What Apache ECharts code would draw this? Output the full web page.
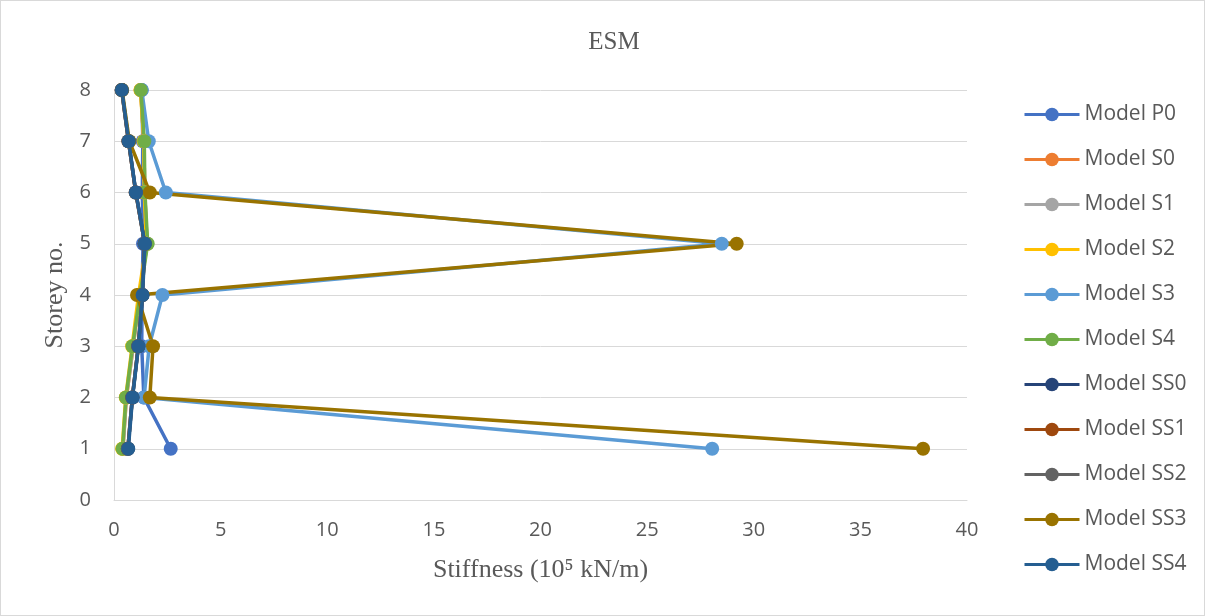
<!DOCTYPE html>
<html>
<head>
<meta charset="utf-8">
<script src="https://cdn.jsdelivr.net/npm/echarts@6/dist/echarts.min.js"></script>
<style>
  html, body { margin: 0; padding: 0; background: #fff; }
  #chart { width: 1205px; height: 616px; box-sizing: border-box; border: 1px solid #d9d9d9; }
</style>
</head>
<body>
<div id="chart"></div>
<script>
// Storey numbers (y) and stiffness per storey (x, in 10^5 kN/m), storeys 1..8
const storeys = [1, 2, 3, 4, 5, 6, 7, 8];
const xTicks = [0, 5, 10, 15, 20, 25, 30, 35, 40];
const yTicks = [0, 1, 2, 3, 4, 5, 6, 7, 8];

const modelP0  = [2.66, 1.40, 1.30, 1.32, 1.36, 1.33, 1.35, 1.30];
const modelS0  = [0.42, 0.58, 0.90, 1.20, 1.55, 1.44, 1.40, 1.25];
const modelS1  = [0.42, 0.58, 0.90, 1.20, 1.55, 1.44, 1.40, 1.25];
const modelS2  = [0.38, 0.55, 0.85, 1.15, 1.52, 1.42, 1.40, 1.24];
const modelS3  = [28.05, 1.41, 1.65, 2.27, 28.5, 2.43, 1.63, 1.30];
const modelS4  = [0.40, 0.56, 0.87, 1.22, 1.58, 1.45, 1.42, 1.26];
const modelSS0 = [0.65, 0.86, 1.14, 1.33, 1.44, 1.02, 0.68, 0.36];
const modelSS1 = [0.65, 0.86, 1.14, 1.33, 1.44, 1.02, 0.68, 0.36];
const modelSS2 = [0.65, 0.86, 1.14, 1.33, 1.44, 1.02, 0.68, 0.36];
const modelSS3 = [37.94, 1.68, 1.83, 1.08, 29.2, 1.68, 0.72, 0.38];
const modelSS4 = [0.67, 0.87, 1.15, 1.34, 1.45, 1.03, 0.69, 0.37];

const seriesDefs = [
  ['Model P0',  modelP0,  '#4472C4'],
  ['Model S0',  modelS0,  '#ED7D31'],
  ['Model S1',  modelS1,  '#A5A5A5'],
  ['Model S2',  modelS2,  '#FFC000'],
  ['Model S3',  modelS3,  '#5B9BD5'],
  ['Model S4',  modelS4,  '#70AD47'],
  ['Model SS0', modelSS0, '#264478'],
  ['Model SS1', modelSS1, '#9E480E'],
  ['Model SS2', modelSS2, '#636363'],
  ['Model SS3', modelSS3, '#997300'],
  ['Model SS4', modelSS4, '#255E91']
];

const chart = echarts.init(document.getElementById('chart'), null, { renderer: 'canvas' });

const series = seriesDefs.map(([name, vals, color]) => ({
  name: name,
  type: 'line',
  data: vals.map((v, i) => [v, storeys[i]]),
  symbol: 'circle',
  symbolSize: 14,
  showSymbol: true,
  lineStyle: { width: 3.5, color: color },
  itemStyle: { color: color },
  emphasis: { disabled: true },
  animation: false
}));

chart.setOption({
  animation: false,
  title: {
    text: 'ESM',
    left: 608,
    top: 24,
    textAlign: 'center',
    textStyle: { fontFamily: 'Liberation Serif', fontSize: 25, fontWeight: 'normal', color: '#595959' }
  },
  legend: {
    orient: 'vertical',
    left: 1022,
    top: 103,
    padding: 0,
    itemWidth: 55,
    itemHeight: 17,
    itemGap: 24,
    data: seriesDefs.map(d => d[0]),
    lineStyle: { width: 3 },
    textStyle: { fontFamily: 'Open Sans', fontSize: 21, color: '#595959' },
    selectedMode: false
  },
  grid: { left: 113, right: 237, top: 89, bottom: 115, containLabel: false },
  xAxis: {
    type: 'value',
    min: 0,
    max: 40,
    interval: 5,
    name: 'Stiffness (10⁵ kN/m)',
    nameLocation: 'middle',
    nameGap: 57,
    nameTextStyle: { fontFamily: 'Liberation Serif', fontSize: 26, color: '#595959' },
    axisLine: { show: true, lineStyle: { color: '#d9d9d9', width: 1 } },
    axisTick: { show: false },
    axisLabel: { fontFamily: 'Open Sans', fontSize: 20, color: '#595959', margin: 20 },
    splitLine: { show: false }
  },
  yAxis: {
    type: 'value',
    min: 0,
    max: 8,
    interval: 1,
    name: 'Storey no.',
    nameLocation: 'middle',
    nameGap: 41,
    nameRotate: 90,
    nameTextStyle: { fontFamily: 'Liberation Serif', fontSize: 26, color: '#595959' },
    axisLine: { show: true, lineStyle: { color: '#d9d9d9', width: 1 } },
    axisTick: { show: false },
    axisLabel: { fontFamily: 'Open Sans', fontSize: 20, color: '#595959', margin: 23 },
    splitLine: { show: true, lineStyle: { color: '#d9d9d9', width: 1 } }
  },
  series: series
});
</script>
</body>
</html>
